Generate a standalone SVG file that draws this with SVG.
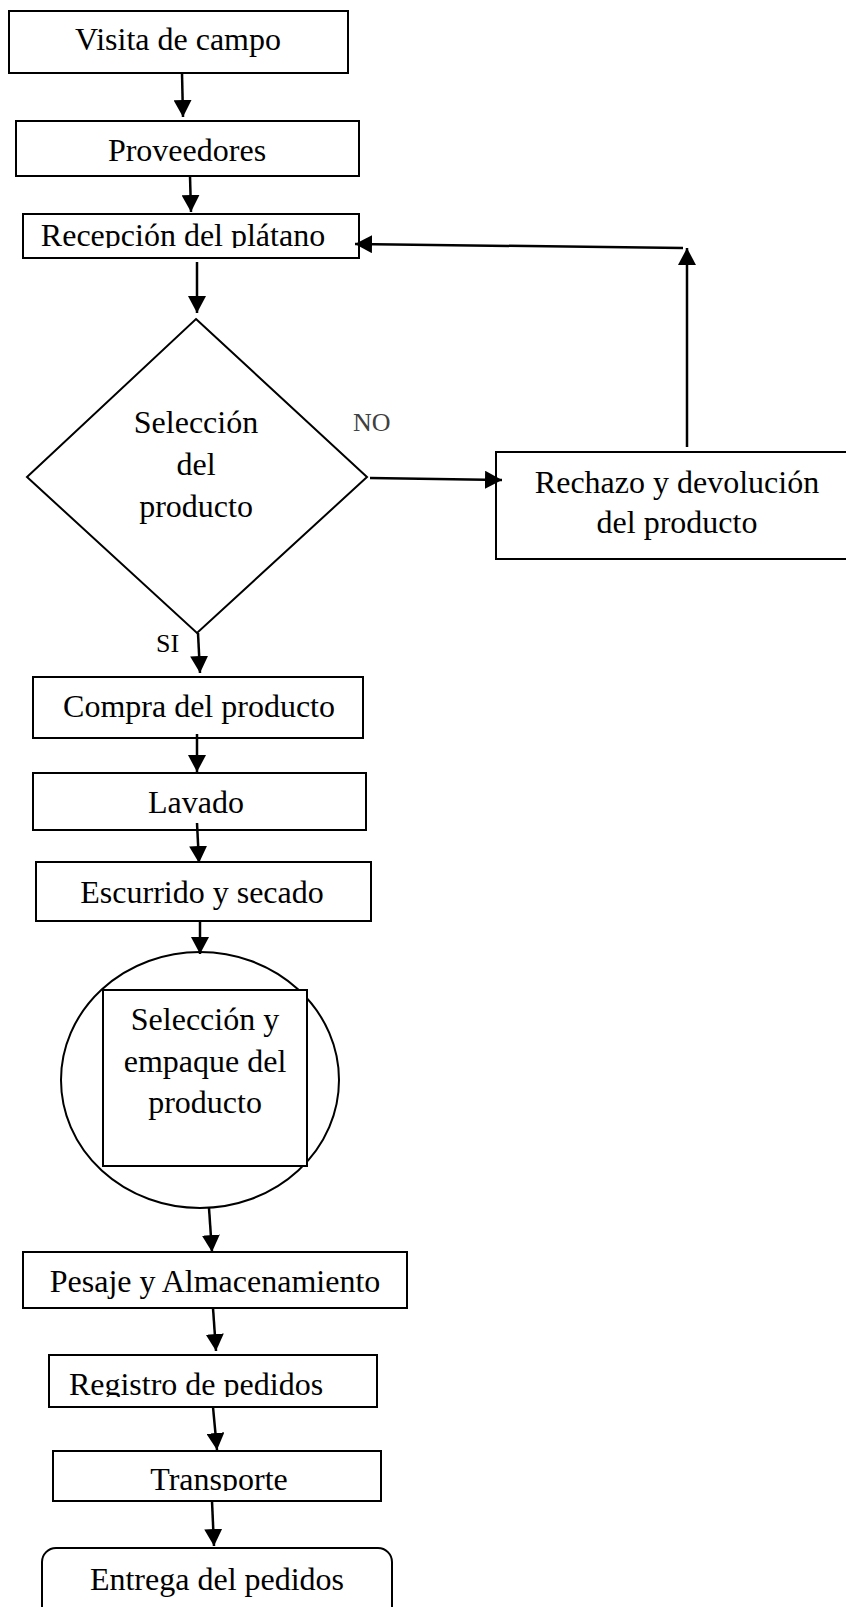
<svg xmlns="http://www.w3.org/2000/svg" width="846" height="1607" viewBox="0 0 846 1607">
<style>
.box{fill:#fff;stroke:#000;stroke-width:2}
.t{font-family:"Liberation Serif","Times New Roman",serif;font-size:32px;fill:#000;text-anchor:middle}
.lbl{font-family:"Liberation Serif","Times New Roman",serif;font-size:26px}
.c{fill:none;stroke:#000;stroke-width:2.5}
</style>
<defs>
<marker id="ah" markerUnits="userSpaceOnUse" markerWidth="18" markerHeight="18" viewBox="0 0 18 18" refX="17" refY="9" orient="auto">
<path d="M0,0 L17,9 L0,18 Z" fill="#000"/>
</marker>
<clipPath id="clipRec"><rect x="0" y="200" width="846" height="48"/></clipPath>
<clipPath id="clipReg"><rect x="0" y="1350" width="846" height="47"/></clipPath>
<clipPath id="clipTra"><rect x="0" y="1450" width="846" height="41"/></clipPath>
</defs>

<g id="n-visita">
<rect class="box" x="9" y="11" width="339" height="62"/>
<text class="t" x="178" y="50">Visita de campo</text>
</g>
<g id="n-proveedores">
<rect class="box" x="16" y="121" width="343" height="55"/>
<text class="t" x="187" y="161">Proveedores</text>
</g>
<g id="n-recepcion">
<rect class="box" x="23" y="214" width="336" height="44"/>
<text class="t" x="183" y="246" clip-path="url(#clipRec)">Recepción del plátano</text>
</g>
<g id="n-seleccion">
<polygon class="box" points="196,319 367,477 197,633 27,477"/>
<text class="t" x="196" y="433">Selección</text>
<text class="t" x="196" y="475">del</text>
<text class="t" x="196" y="517">producto</text>
</g>
<g id="n-rechazo">
<rect class="box" x="496" y="452" width="360" height="107"/>
<text class="t" x="677" y="493">Rechazo y devolución</text>
<text class="t" x="677" y="533">del producto</text>
</g>
<g id="n-compra">
<rect class="box" x="33" y="677" width="330" height="61"/>
<text class="t" x="199" y="717">Compra del producto</text>
</g>
<g id="n-lavado">
<rect class="box" x="33" y="773" width="333" height="57"/>
<text class="t" x="196" y="813">Lavado</text>
</g>
<g id="n-escurrido">
<rect class="box" x="36" y="862" width="335" height="59"/>
<text class="t" x="202" y="903">Escurrido y secado</text>
</g>
<g id="n-empaque">
<ellipse class="box" cx="200" cy="1080" rx="139" ry="128"/>
<rect class="box" x="103" y="990" width="204" height="176"/>
<text class="t" x="205" y="1030">Selección y</text>
<text class="t" x="205" y="1072">empaque del</text>
<text class="t" x="205" y="1113">producto</text>
</g>
<g id="n-pesaje">
<rect class="box" x="23" y="1252" width="384" height="56"/>
<text class="t" x="215" y="1292">Pesaje y Almacenamiento</text>
</g>
<g id="n-registro">
<rect class="box" x="49" y="1355" width="328" height="52"/>
<text class="t" x="196" y="1395" clip-path="url(#clipReg)">Registro de pedidos</text>
</g>
<g id="n-transporte">
<rect class="box" x="53" y="1451" width="328" height="50"/>
<text class="t" x="219" y="1490" clip-path="url(#clipTra)">Transporte</text>
</g>
<g id="n-entrega">
<rect class="box" x="42" y="1548" width="350" height="80" rx="14" ry="14"/>
<text class="t" x="217" y="1590">Entrega del pedidos</text>
</g>

<g id="connectors">
<line class="c" x1="182" y1="73" x2="183" y2="117" marker-end="url(#ah)"/>
<line class="c" x1="190" y1="176" x2="191" y2="212" marker-end="url(#ah)"/>
<line class="c" x1="197" y1="262" x2="197" y2="313" marker-end="url(#ah)"/>
<line class="c" x1="370" y1="478" x2="502" y2="480" marker-end="url(#ah)"/>
<line class="c" x1="687" y1="447" x2="687" y2="248" marker-end="url(#ah)"/>
<line class="c" x1="683" y1="248" x2="355" y2="244" marker-end="url(#ah)"/>
<line class="c" x1="198" y1="633" x2="200" y2="673" marker-end="url(#ah)"/>
<line class="c" x1="197" y1="734" x2="197" y2="772" marker-end="url(#ah)"/>
<line class="c" x1="197" y1="823" x2="199" y2="863" marker-end="url(#ah)"/>
<line class="c" x1="200" y1="921" x2="200" y2="954" marker-end="url(#ah)"/>
<line class="c" x1="209" y1="1208" x2="212" y2="1252" marker-end="url(#ah)"/>
<line class="c" x1="213" y1="1308" x2="216" y2="1351" marker-end="url(#ah)"/>
<line class="c" x1="213" y1="1407" x2="217" y2="1450" marker-end="url(#ah)"/>
<line class="c" x1="212" y1="1501" x2="214" y2="1546" marker-end="url(#ah)"/>
<text class="lbl" x="353" y="431" fill="#404040">NO</text>
<text class="lbl" x="156" y="652" fill="#000">SI</text>
</g>
</svg>
